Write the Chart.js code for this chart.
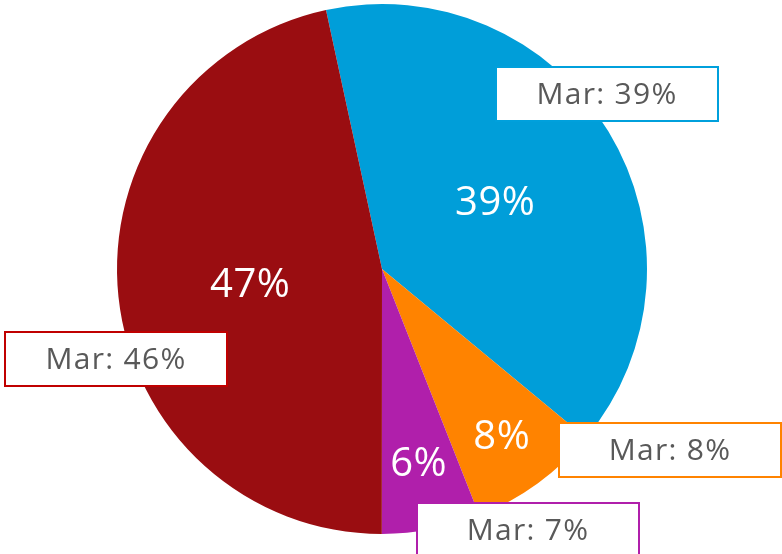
<!DOCTYPE html>
<html>
<head>
<meta charset="utf-8">
<script src="https://cdn.jsdelivr.net/npm/chart.js@4.4.0/dist/chart.umd.min.js"></script>
<style>
    html, body { margin: 0; padding: 0; background: #ffffff; }
    #wrap { width: 782px; height: 554px; }
</style>
</head>
<body>
<div id="wrap"><canvas id="pie"></canvas></div>
<script>
'use strict';

// Current share of each segment (percent), clockwise from the top
var segments = ['Blue', 'Orange', 'Purple', 'Red'];
var shares = [39.4, 8.0, 6.0, 46.6];
// March shares shown in the callout boxes
var marchShares = [39, 8, 7, 46];

var colors = ['#009ed9', '#ff8300', '#b01fab', '#9a0d11'];
var calloutBorders = ['#00a0dc', '#ff8300', '#b01fab', '#c00000'];

// Inner label distance from centre, as a fraction of the radius
var labelRadius = [0.5, 0.77, 0.74, 0.5];
// Callout box centres, offset from the pie centre
var calloutOffsets = [[225, -175], [288, 181], [146, 261], [-266, 90]];

var pieLabels = {
    id: 'pieLabels',
    afterDatasetsDraw: function (chart) {
        var ctx = chart.ctx;
        var meta = chart.getDatasetMeta(0);
        var total = shares.reduce(function (a, b) { return a + b; }, 0);

        ctx.save();
        ctx.textAlign = 'center';
        ctx.textBaseline = 'middle';

        // Percent labels inside the slices
        ctx.fillStyle = '#ffffff';
        ctx.font = '40px "Open Sans"';
        ctx.letterSpacing = '0.5px';
        meta.data.forEach(function (arc, i) {
            var mid = (arc.startAngle + arc.endAngle) / 2;
            var r = arc.outerRadius * labelRadius[i];
            var pct = Math.round(shares[i] / total * 100);
            ctx.fillText(pct + '%', arc.x + Math.cos(mid) * r, arc.y + Math.sin(mid) * r + 3);
        });

        // March callout boxes
        var w = 222, h = 54;
        ctx.font = '30px "Open Sans"';
        ctx.letterSpacing = '1.3px';
        meta.data.forEach(function (arc, i) {
            var cx = arc.x + calloutOffsets[i][0];
            var cy = arc.y + calloutOffsets[i][1];
            ctx.fillStyle = '#ffffff';
            ctx.fillRect(cx - w / 2, cy - h / 2, w, h);
            ctx.lineWidth = 2;
            ctx.strokeStyle = calloutBorders[i];
            ctx.strokeRect(cx - w / 2, cy - h / 2, w, h);
            ctx.fillStyle = '#595959';
            ctx.fillText('Mar: ' + marchShares[i] + '%', cx, cy + 1);
        });
        ctx.restore();
    },
};

var config = {
    type: 'pie',
    data: {
        labels: segments,
        datasets: [{
            data: shares,
            backgroundColor: colors,
            borderWidth: 0,
        }],
    },
    options: {
        responsive: true,
        maintainAspectRatio: false,
        animation: false,
        rotation: -12.2,
        layout: {
            padding: {left: 117, right: 135, top: 4, bottom: 20},
        },
        plugins: {
            legend: {display: false},
            tooltip: {enabled: false},
        },
    },
    plugins: [pieLabels],
};

var canvas = document.getElementById('pie');
var context = canvas.getContext('2d');
new Chart(context, config);
</script>
</body>
</html>
